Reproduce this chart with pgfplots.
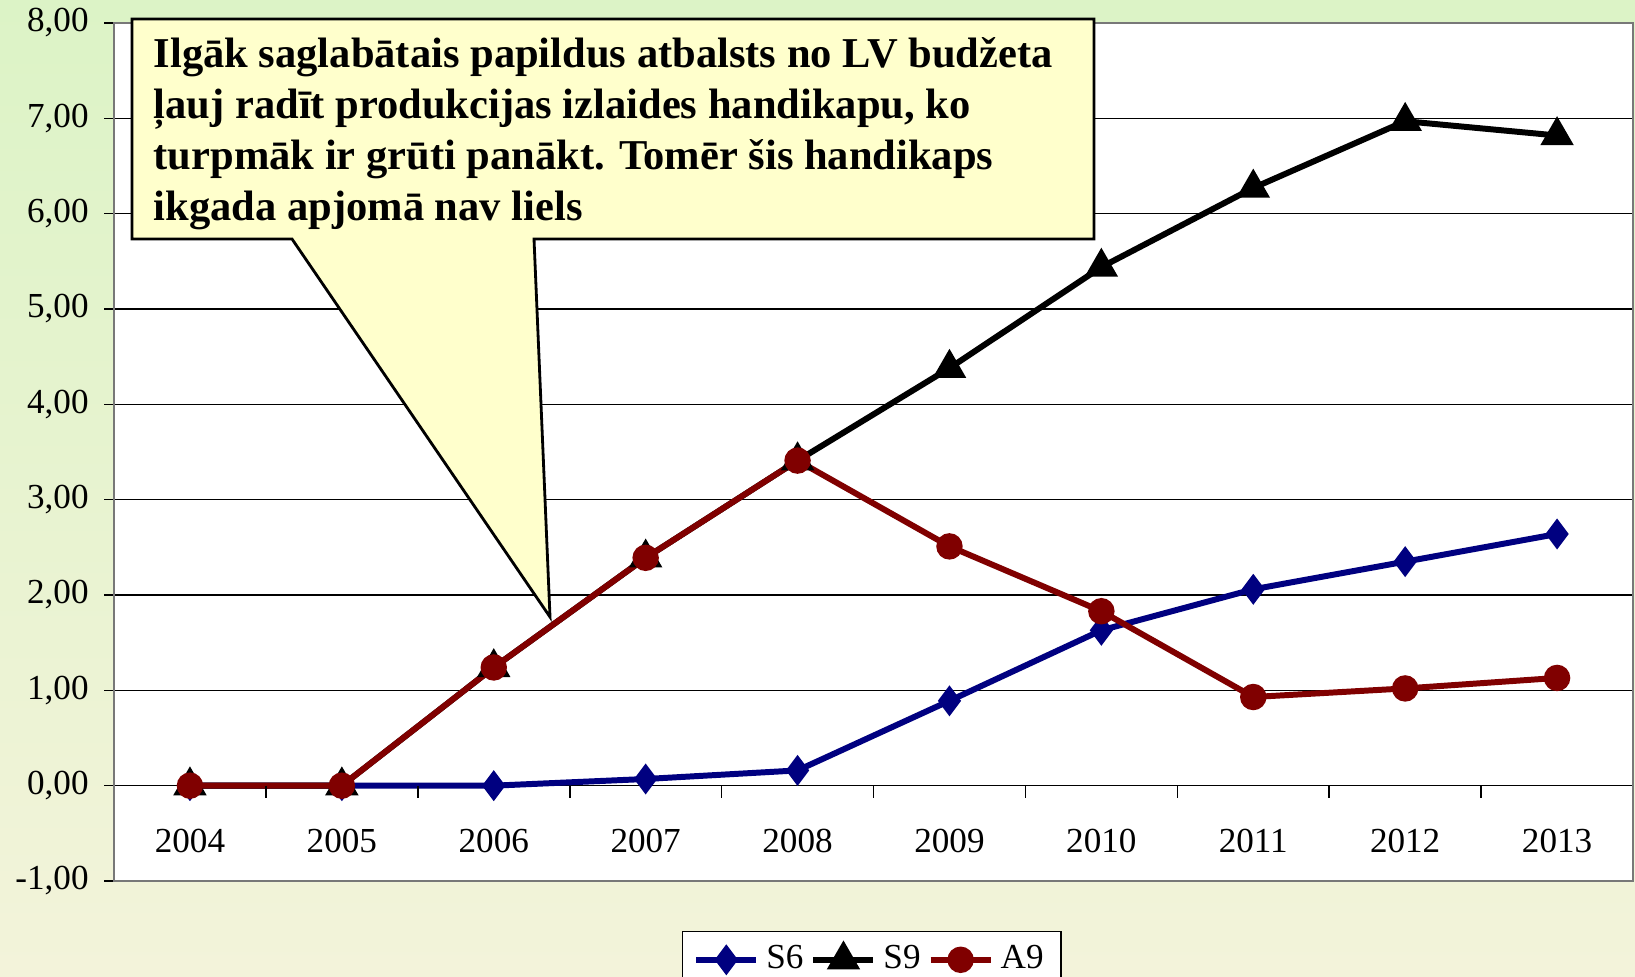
\documentclass[border=0pt]{standalone}
\usepackage{pgfplots}
\pgfplotsset{compat=1.18}
\usepackage{fontspec}
\setmainfont{Liberation Serif}
\definecolor{sSix}{RGB}{0,0,128}
\definecolor{aNine}{RGB}{128,0,0}
\definecolor{bgTop}{RGB}{220,243,198}
\definecolor{bgBot}{RGB}{243,243,218}
\definecolor{callout}{RGB}{255,255,204}
\definecolor{frame}{RGB}{120,120,120}

\begin{document}
\begin{tikzpicture}
\shade[top color=bgTop, bottom color=bgBot] (0,0) rectangle (16.35,9.76);
\begin{axis}[
  at={(1.14cm,0.95cm)}, anchor=south west,
  scale only axis, width=15.19cm, height=8.58cm,
  xmin=2003.5, xmax=2013.5, ymin=-1, ymax=8,
  axis background/.style={fill=white},
  axis line style={draw=frame, line width=0.8pt},
  xtick={2004,2005,2006,2007,2008,2009,2010,2011,2012,2013},
  xticklabels={2004,2005,2006,2007,2008,2009,2010,2011,2012,2013},
  xtick style={draw=none},
  xticklabel style={anchor=center, yshift=0.50cm},
  ytick={-1,0,1,2,3,4,5,6,7,8},
  ytick pos=left,
  tick align=outside,
  major tick length=0.1cm,
  ytick style={black, line width=0.45pt},
  yticklabel style={xshift=-0.03cm},
  ymajorgrids, grid style={black, line width=0.45pt},
  tick label style={font=\fontsize{10}{12}\selectfont},
  /pgf/number format/.cd, fixed, fixed zerofill, precision=2, use comma, assume math mode=true,
  /pgfplots/.cd,
  legend style={at={(0.499,-0.058)}, anchor=north, legend columns=3,
    draw=black, fill=white, font=\fontsize{10}{12}\selectfont,
    /tikz/every even column/.append style={column sep=0cm}},
]
\addplot[sSix, line width=1.7pt, mark=diamond*, mark size=3pt, mark options={solid}] coordinates {
 (2004,0) (2005,0) (2006,0.00) (2007,0.07) (2008,0.16) (2009,0.89) (2010,1.63) (2011,2.06) (2012,2.35) (2013,2.64)};
\addlegendentry{S6}
\addplot[black, line width=1.7pt, mark=triangle*, mark size=3.8pt] coordinates {
 (2004,0) (2005,0) (2006,1.24) (2007,2.39) (2008,3.41) (2009,4.38) (2010,5.44) (2011,6.27) (2012,6.97) (2013,6.82)};
\addlegendentry{S9}
\addplot[aNine, line width=1.7pt, mark=*, mark size=2.9pt] coordinates {
 (2004,0) (2005,0) (2006,1.24) (2007,2.39) (2008,3.41) (2009,2.51) (2010,1.83) (2011,0.93) (2012,1.02) (2013,1.13)};
\addlegendentry{A9}
\pgfplotsinvokeforeach{2004.5,2005.5,2006.5,2007.5,2008.5,2009.5,2010.5,2011.5,2012.5}{
  \draw[black, line width=0.45pt] (axis cs:#1,0) -- ([yshift=-0.12cm]axis cs:#1,0);
}
\end{axis}
\draw[fill=callout, line width=0.8pt, line join=miter]
  (1.32,9.57) -- (10.94,9.57) -- (10.94,7.37) -- (5.34,7.37) -- (5.50,3.59) -- (2.92,7.37) -- (1.32,7.37) -- cycle;
\begin{scope}[every node/.style={anchor=base west, inner sep=0pt, font=\fontsize{12.1}{14.5}\selectfont\bfseries}]
\node at (1.53,9.08) {Ilgāk saglabātais papildus atbalsts no LV budžeta};
\node at (1.53,8.57) {ļauj radīt produkcijas izlaides handikapu, ko};
\node at (1.53,8.06) {turpmāk ir grūti panākt. Tomēr šis handikaps};
\node at (1.53,7.55) {ikgada apjomā nav liels};
\end{scope}
\pgfresetboundingbox
\useasboundingbox (0,0) rectangle (16.35,9.76);
\end{tikzpicture}
\end{document}
